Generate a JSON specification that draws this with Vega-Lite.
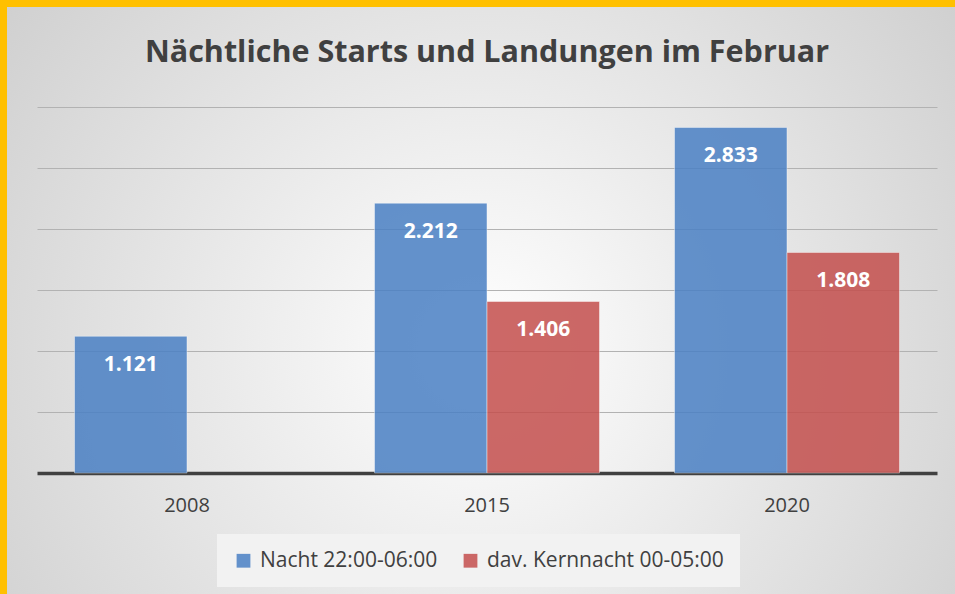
{
  "$schema": "https://vega.github.io/schema/vega-lite/v6.json",
  "width": 948,
  "height": 587,
  "autosize": "none",
  "padding": {"left": 7, "top": 7, "right": 0, "bottom": 0},
  "background": "#FFC000",
  "view": {
    "stroke": null,
    "fill": {
      "gradient": "radial",
      "x1": 0.5, "y1": 0.55, "r1": 0,
      "x2": 0.5, "y2": 0.55, "r2": 0.75,
      "stops": [
        {"offset": 0, "color": "#ffffff"},
        {"offset": 1, "color": "#c6c6c6"}
      ]
    }
  },
  "title": {
    "text": "Nächtliche Starts und Landungen im Februar",
    "font": "Open Sans",
    "fontSize": 30.5,
    "fontWeight": "bold",
    "color": "#404040",
    "anchor": "middle",
    "frame": "group",
    "baseline": "alphabetic",
    "offset": -85,
    "dx": 6
  },
  "config": {
    "locale": {
      "number": {"decimal": ",", "thousands": ".", "grouping": [3], "currency": ["", " €"]}
    }
  },
  "data": {
    "values": [
      {"year": "2008", "series": "Nacht 22:00-06:00", "value": 1121},
      {"year": "2015", "series": "Nacht 22:00-06:00", "value": 2212},
      {"year": "2015", "series": "dav. Kernnacht 00-05:00", "value": 1406},
      {"year": "2020", "series": "Nacht 22:00-06:00", "value": 2833},
      {"year": "2020", "series": "dav. Kernnacht 00-05:00", "value": 1808}
    ]
  },
  "encoding": {
    "x": {
      "field": "year",
      "type": "nominal",
      "scale": {"range": [30, 930], "paddingInner": 0.25, "paddingOuter": 0.125},
      "axis": {
        "title": null,
        "orient": "bottom",
        "offset": -121,
        "labelAngle": 0,
        "labelFont": "Open Sans",
        "labelFontSize": 20,
        "labelColor": "#404040",
        "labelPadding": 22,
        "ticks": false,
        "domainColor": "#404040",
        "domainWidth": 3.5,
        "grid": false
      }
    },
    "xOffset": {
      "field": "series",
      "type": "nominal",
      "scale": {"domain": ["Nacht 22:00-06:00", "dav. Kernnacht 00-05:00"], "paddingInner": 0, "paddingOuter": 0}
    },
    "y": {
      "field": "value",
      "type": "quantitative",
      "scale": {"domain": [-992, 3820], "nice": false, "zero": false},
      "axis": {
        "title": null,
        "labels": false,
        "ticks": false,
        "domain": false,
        "grid": true,
        "values": [500, 1000, 1500, 2000, 2500, 3000],
        "gridColor": "#b2b2b2",
        "gridWidth": 1
      }
    }
  },
  "layer": [
    {
      "mark": {"type": "bar", "opacity": 0.85, "stroke": "#ffffff", "strokeOpacity": 0.45, "strokeWidth": 1},
      "encoding": {
        "color": {
          "field": "series",
          "type": "nominal",
          "scale": {"domain": ["Nacht 22:00-06:00", "dav. Kernnacht 00-05:00"], "range": ["#4a80c4", "#c44f4d"]},
          "legend": {
            "title": null,
            "orient": "none",
            "direction": "horizontal",
            "legendX": 210,
            "legendY": 527,
            "padding": 16,
            "fillColor": "#f2f2f2",
            "symbolType": "square",
            "symbolSize": 190,
            "symbolStrokeWidth": 0,
            "symbolOpacity": 0.85,
            "labelFont": "Open Sans",
            "labelFontSize": 21,
            "labelColor": "#404040",
            "labelOffset": 6,
            "columnPadding": 22,
            "labelLimit": 400
          }
        }
      }
    },
    {
      "mark": {"type": "text", "color": "#ffffff", "font": "Open Sans", "fontSize": 21, "fontWeight": "bold", "baseline": "alphabetic", "dy": 35},
      "encoding": {
        "text": {"field": "value", "type": "quantitative", "format": ",d"}
      }
    }
  ]
}
